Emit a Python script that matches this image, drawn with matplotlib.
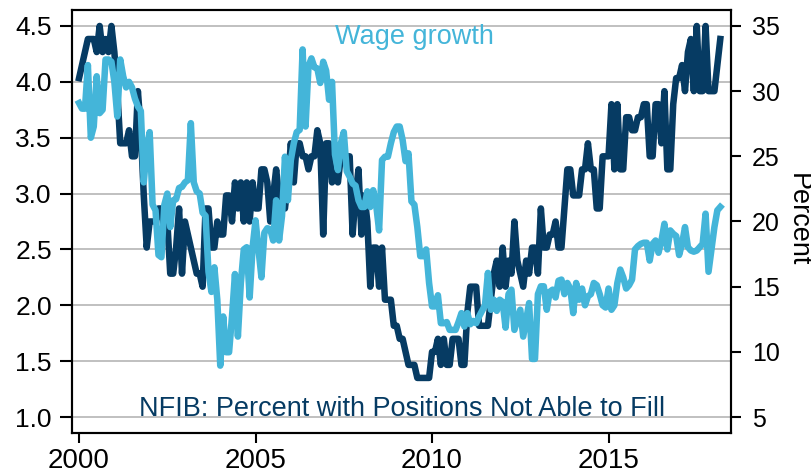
import matplotlib
matplotlib.use("Agg")
import matplotlib.pyplot as plt
import numpy as np

plt.rcParams['font.family'] = ['Liberation Sans', 'DejaVu Sans']

# ---------------- data (monthly, Jan 2000 - Mar 2018) ----------------
start_year = 2000

# NFIB: percent of firms with positions not able to fill (right axis)
nfib_pct = [
    31, 32, 33, 34, 34, 34, 33, 35, 33, 34, 33, 35,
    33, 30, 26, 26, 26, 27, 25, 25, 30, 27, 22, 18,
    20, 20, 20, 21, 21, 19, 20, 16, 16, 18, 21, 16,
    20, 19, 18, 17, 16, 16, 15, 21, 21, 18, 18, 20,
    19, 19, 22, 22, 20, 23, 21, 23, 20, 23, 20, 23,
    21, 21, 24, 24, 23, 20, 22, 24, 22, 21, 21, 23,
    26, 23, 26, 26, 25, 25, 24, 25, 25, 27, 26, 19,
    26, 26, 23, 24, 23, 25, 25, 25, 25, 19, 22, 24,
    19, 22, 20, 15, 18, 18, 15, 18, 14, 14, 14, 12,
    12, 11, 11, 10, 9, 9, 9, 8, 8, 8, 8, 8,
    10, 10, 11, 9, 11, 9, 9, 11, 11, 11, 9, 9,
    13, 15, 15, 15, 12, 12, 12, 12, 14, 16, 17, 15,
    18, 15, 17, 16, 20, 17, 16, 15, 17, 16, 18, 18,
    16, 21, 18, 18, 19, 19, 20, 18, 18, 21, 24, 24,
    22, 22, 22, 24, 24, 26, 24, 24, 21, 21, 25, 25,
    25, 29, 24, 29, 24, 24, 28, 28, 27, 27, 28, 28,
    29, 29, 25, 25, 29, 29, 26, 30, 24, 24, 29, 31,
    31, 32, 30, 33, 34, 30, 35, 30, 30, 35, 30, 30,
    30, 32, 34,
]

# Wage growth, percent (left axis)
wage_growth = [
    3.81, 3.76, 3.76, 4.15, 3.50, 3.60, 4.05, 3.72, 3.75, 4.20, 4.20, 4.18,
    4.00, 3.69, 4.20, 4.05, 3.95, 4.00, 3.95, 3.85, 3.78, 3.74, 3.10, 3.40,
    3.55, 2.90, 2.85, 2.45, 2.43, 2.90, 3.00, 2.70, 2.94, 2.95, 3.05, 3.06,
    3.10, 3.12, 3.63, 3.10, 3.02, 3.00, 2.83, 2.80, 2.30, 2.12, 2.34, 2.05,
    1.46, 1.90, 1.58, 1.58, 1.90, 2.28, 1.72, 2.20, 2.50, 2.52, 2.07, 2.52,
    2.76, 2.50, 2.25, 2.65, 2.69, 2.68, 2.58, 2.94, 2.58, 2.80, 3.33, 2.94,
    3.30, 3.45, 3.55, 3.57, 4.29, 3.60, 4.14, 4.21, 4.13, 4.12, 3.99, 4.18,
    4.10, 3.84, 4.00, 3.35, 3.21, 3.45, 3.55, 3.20, 3.15, 3.09, 3.07, 2.94,
    2.88, 2.88, 3.02, 2.88, 3.03, 2.90, 2.67, 3.30, 3.33, 3.33, 3.45, 3.55,
    3.60, 3.60, 3.48, 3.29, 3.36, 2.93, 2.90, 2.70, 2.44, 2.44, 2.50, 2.20,
    1.99, 1.99, 2.09, 1.84, 1.84, 1.85, 1.78, 1.78, 1.78, 1.85, 1.93, 1.81,
    1.93, 1.83, 1.86, 1.84, 1.90, 1.95, 2.00, 2.29, 1.96, 2.05, 1.95, 2.05,
    2.03, 1.80, 2.10, 2.14, 1.78, 1.87, 1.96, 1.72, 1.87, 2.02, 1.52, 1.52,
    2.10, 2.17, 2.17, 1.96, 2.12, 2.14, 2.07, 2.22, 2.23, 2.10, 2.20, 2.15,
    1.93, 2.20, 2.05, 2.15, 2.00, 2.08, 2.10, 2.20, 2.18, 2.10, 2.00, 1.98,
    2.15, 1.96, 2.00, 2.20, 2.32, 2.25, 2.15, 2.18, 2.23, 2.50, 2.53, 2.55,
    2.56, 2.56, 2.40, 2.55, 2.58, 2.47, 2.58, 2.73, 2.50, 2.67, 2.64, 2.62,
    2.45, 2.55, 2.70, 2.52, 2.49, 2.48, 2.49, 2.52, 2.55, 2.82, 2.30, 2.50,
    2.70, 2.85, 2.88,
]

left_ticks = [1.0, 1.5, 2.0, 2.5, 3.0, 3.5, 4.0, 4.5]
right_ticks = [5, 10, 15, 20, 25, 30, 35]
year_ticks = [2000, 2005, 2010, 2015]

wage_label = "Wage growth"
nfib_label = "NFIB: Percent with Positions Not Able to Fill"
right_axis_label = "Percent"

# ---------------- styling ----------------
DARK = '#063b63'
LIGHT = '#44b5d9'
GRID = '#c0c0c0'

months = np.arange(len(nfib_pct))
x = start_year + months / 12.0

left_lim = (0.857, 4.643)
def left_to_right(v):
    return 5 + (v - 1.0) * 30.0 / 3.5
right_lim = (left_to_right(left_lim[0]), left_to_right(left_lim[1]))

fig = plt.figure(figsize=(8.11, 4.76), dpi=100)
ax = fig.add_axes([72 / 811, 1 - 433 / 476, (731 - 72) / 811, (433 - 10) / 476])
ax2 = ax.twinx()

ax.yaxis.tick_right()
ax.yaxis.set_label_position('right')
ax2.yaxis.tick_left()
ax2.yaxis.set_label_position('left')

for v in left_ticks:
    ax.axhline(left_to_right(v), color=GRID, lw=1.4, zorder=0)

ax.plot(x, nfib_pct, color=DARK, lw=4.7, solid_joinstyle='round', zorder=2)
ax2.plot(x, wage_growth, color=LIGHT, lw=4.7, solid_joinstyle='round', zorder=2)

ax.set_xlim(1999.80, 2018.47)
ax.set_ylim(*right_lim)
ax2.set_ylim(*left_lim)

ax.set_xticks(year_ticks)
ax.set_xticklabels([str(y) for y in year_ticks])
ax.set_yticks(right_ticks)
ax.set_yticklabels([str(t) for t in right_ticks])
ax2.set_yticks(left_ticks)
ax2.set_yticklabels([f"{t:.1f}" for t in left_ticks])

for a in (ax, ax2):
    for s in a.spines.values():
        s.set_linewidth(1.5)
        s.set_color('black')

ax.tick_params(axis='x', length=7, width=1.5, pad=4, labelsize=20, colors='black')
ax.tick_params(axis='y', length=7, width=1.5, pad=8, labelsize=18)
ax2.tick_params(axis='y', length=8.5, width=1.5, pad=6, labelsize=19)

ax2.text(0.519, 0.920, wage_label, transform=ax2.transAxes, ha='center',
         va='baseline', color=LIGHT, fontsize=19.5)
ax2.text(0.5015, 0.040, nfib_label, transform=ax2.transAxes, ha='center',
         va='baseline', color=DARK, fontsize=19.5)

fig.text(0.984, 0.538, right_axis_label, rotation=270, ha='center', va='center',
         fontsize=19.5)

fig.savefig('out.png', dpi=100)
